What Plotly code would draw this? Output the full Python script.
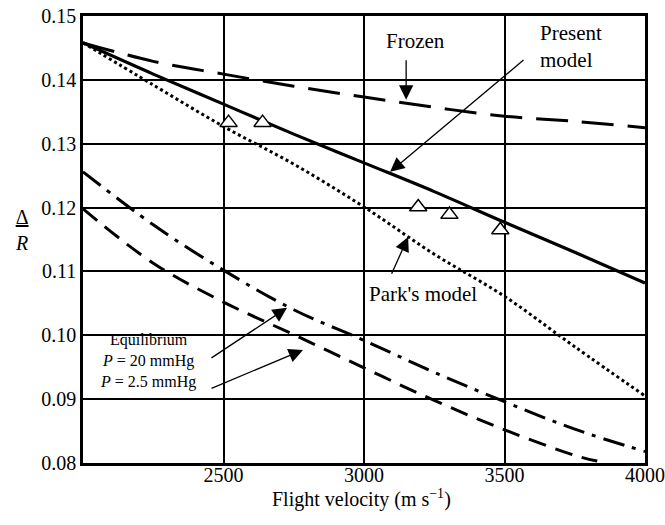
import plotly.graph_objects as go

# Flight velocity grid (m/s) shared by the computed curves
velocity = [2000, 2250, 2500, 2750, 3000, 3250, 3500, 3750, 4000]

# Shock stand-off distance ratio Delta/R for each model
frozen = [0.1458, 0.1429, 0.1409, 0.1390, 0.1373, 0.1357, 0.1343, 0.1335, 0.1325]
present_model = [0.1458, 0.1409, 0.1362, 0.1315, 0.1270, 0.1225, 0.1177, 0.1130, 0.1082]
parks_model = [0.1458, 0.1392, 0.1327, 0.1268, 0.1201, 0.1127, 0.1061, 0.0982, 0.0905]
equil_p20 = [0.1256, 0.1173, 0.1102, 0.1040, 0.0992, 0.0942, 0.0896, 0.0853, 0.0818]

# Equilibrium at 2.5 mmHg leaves the frame near 3830 m/s
velocity_p25 = [2000, 2250, 2500, 2750, 3000, 3250, 3500, 3750, 3830]
equil_p25 = [0.1198, 0.1113, 0.1052, 0.1001, 0.0949, 0.0898, 0.0852, 0.0812, 0.0803]

# Experimental points
exp_velocity = [2518, 2639, 3193, 3304, 3485]
exp_ratio = [0.1333, 0.1333, 0.1201, 0.1189, 0.1165]

x_ticks = [2500, 3000, 3500, 4000]
y_ticks = [0.08, 0.09, 0.10, 0.11, 0.12, 0.13, 0.14, 0.15]

FONT = "Liberation Serif, Times New Roman, serif"

fig = go.Figure()

def curve(x, y, dash, width=3):
    fig.add_trace(go.Scatter(
        x=x, y=y, mode="lines", line_shape="spline",
        line=dict(color="black", width=width, dash=dash),
        showlegend=False, hoverinfo="skip"))

curve(velocity, frozen, "32px,14px")
curve(velocity, present_model, "solid", 3.2)
curve(velocity, parks_model, "3px,3px")
curve(velocity, equil_p20, "22px,8px,4px,8px")
curve(velocity_p25, equil_p25, "18px,10px")

fig.add_trace(go.Scatter(
    x=exp_velocity, y=exp_ratio, mode="markers",
    marker=dict(symbol="triangle-up", size=15, color="white",
                line=dict(color="black", width=1.5)),
    showlegend=False, hoverinfo="skip"))

def label(x, y, text, size=21, xanchor="center", align="center"):
    fig.add_annotation(x=x, y=y, xref="x", yref="y", text=text, showarrow=False,
                       font=dict(family=FONT, size=size, color="black"),
                       xanchor=xanchor, align=align)

def arrow(tail, tip):
    fig.add_annotation(x=tip[0], y=tip[1], ax=tail[0], ay=tail[1],
                       xref="x", yref="y", axref="x", ayref="y", text="",
                       showarrow=True, arrowhead=2, arrowsize=2.2,
                       arrowwidth=1.3, arrowcolor="black")

label(3182, 0.1461, "Frozen")
arrow((3150, 0.1433), (3150, 0.1369))

label(3619, 0.1452, "Present<br>model", xanchor="left", align="left")
arrow((3573, 0.1433), (3093, 0.1256))

label(3011, 0.1065, "Park's model", xanchor="left", align="left")
arrow((3096, 0.1094), (3157, 0.1154))

label(2231, 0.0960, "Equilibrium<br><i>P</i> = 20 mmHg<br><i>P</i> = 2.5 mmHg", size=16)
arrow((2452, 0.0963), (2726, 0.1043))
arrow((2452, 0.0916), (2783, 0.0977))

# Delta / R axis label drawn as a stacked fraction
fig.add_annotation(x=-0.125, y=0.521, xref="paper", yref="paper",
                   text="<u>Δ</u><br><i>R</i>", showarrow=False,
                   font=dict(family=FONT, size=20, color="black"))

# Horizontal axis title
fig.add_annotation(x=0.496, y=-0.079, xref="paper", yref="paper",
                   text="Flight velocity (m s<sup>−1</sup>)", showarrow=False,
                   yanchor="middle", font=dict(family=FONT, size=20, color="black"))

axis_common = dict(showline=True, linecolor="black", linewidth=2.5, mirror=True,
                   showgrid=True, gridcolor="black", gridwidth=1.8,
                   zeroline=False, ticks="", automargin=False,
                   tickfont=dict(family=FONT, size=20, color="black"))

fig.update_xaxes(range=[2000, 4000], tickvals=x_ticks,
                 ticktext=[str(v) for v in x_ticks], ticklabelstandoff=-8,
                 **axis_common)
fig.update_yaxes(range=[0.08, 0.15], tickvals=y_ticks,
                 ticktext=[f"{v:.2f}" for v in y_ticks], **axis_common)

fig.update_layout(width=665, height=525, margin=dict(l=83, r=20, t=16, b=62),
                  plot_bgcolor="white", paper_bgcolor="white", showlegend=False)

fig.write_html("out.html")
